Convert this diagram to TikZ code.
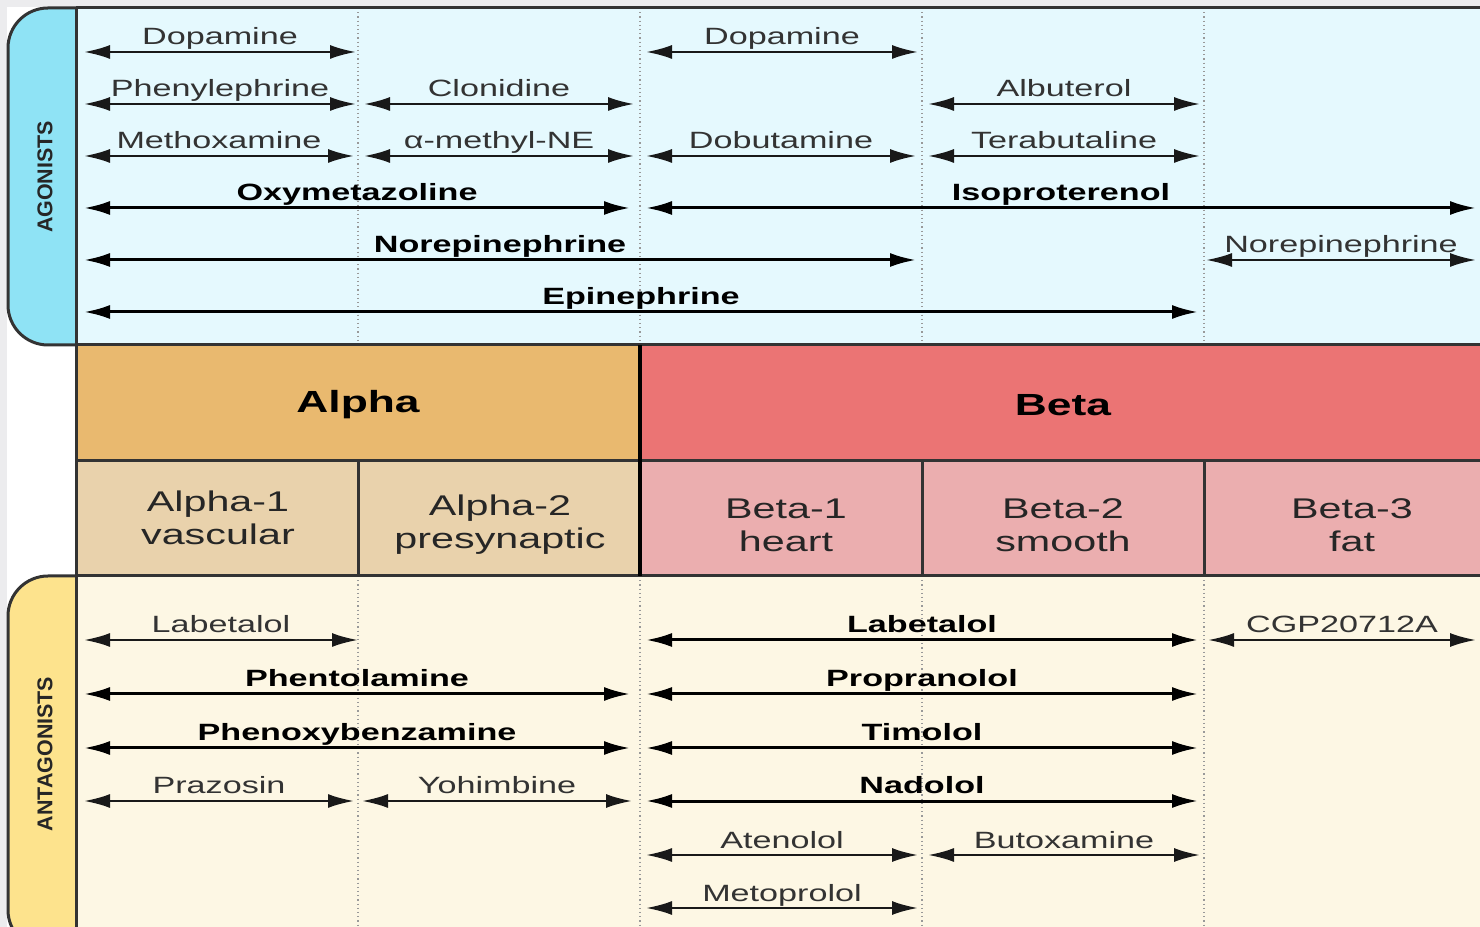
\documentclass[tikz,border=0pt]{standalone}
\usepackage{fontspec}
\setmainfont[FakeStretch=1.45]{Liberation Sans}
\newfontfamily\tabfont{Liberation Sans}
\usetikzlibrary{arrows.meta}
\definecolor{agbg}{HTML}{E5F9FE}
\definecolor{agtab}{HTML}{8FE3F5}
\definecolor{antbg}{HTML}{FDF7E4}
\definecolor{anttab}{HTML}{FDE38D}
\definecolor{alphaH}{HTML}{E9B96F}
\definecolor{betaH}{HTML}{EB7474}
\definecolor{alphaS}{HTML}{E9D2AC}
\definecolor{betaS}{HTML}{EBAEAF}
\definecolor{edge}{HTML}{333333}
\definecolor{margin}{HTML}{ECECEE}
% one drug range: name, left x, right x, row y, label
\newcommand{\rng}[6][drug]{%
  \coordinate (#2-l) at (#3,#5);
  \coordinate (#2-r) at (#4,#5);
  \draw[#1] (#2-l) -- node[#1 lbl] (#2) {#6} (#2-r);}

\begin{document}
\begin{tikzpicture}[x=0.1mm,y=-0.1mm,
  drug/.style={draw=black!90, line width=0.24mm,
    {Latex[length=2.6mm,width=1.4mm]}-{Latex[length=2.6mm,width=1.4mm]}},
  key/.style={drug, draw=black, line width=0.3mm},
  drug lbl/.style={anchor=base, yshift=0.7mm, inner sep=0pt, text=black!80,
    font=\fontsize{6.7pt}{8pt}\selectfont},
  key lbl/.style={drug lbl, text=black, font=\fontsize{6.7pt}{8pt}\selectfont\bfseries},
  frame/.style={draw=edge, line width=0.3mm},
  grid/.style={draw=black!40, line width=0.2mm, dash pattern=on 0.12mm off 0.3mm},
  tabbox/.style={draw=edge, line width=0.3mm, rounded corners=4mm},
  tablbl/.style={rotate=90, font=\tabfont\fontsize{6.1pt}{7pt}\selectfont\bfseries, text=black!85},
  hd/.style={font=\fontsize{8.7pt}{10pt}\selectfont\bfseries},
  sub/.style={align=center, text=black!85, font=\fontsize{8.1pt}{9.4pt}\selectfont}]

\clip (0,0) rectangle (1480,927);
\fill[white] (0,0) rectangle (1480,927);
\fill[margin] (0,0) rectangle (1480,7);
\fill[margin] (0,0) rectangle (7,927);

% ===== agonist band =====
\fill[agbg] (76,8) rectangle (1480,345);
\draw[tabbox, fill=agtab] (76,8) -- (8,8) -- (8,345) -- (76,345);
\node[tablbl] (agonists) at (45,177) {AGONISTS};

% ===== antagonist band =====
\fill[antbg] (76,576) rectangle (1480,927);
\draw[tabbox, fill=anttab] (76,576) -- (8,576) -- (8,950) -- (76,950);
\node[tablbl] (antagonists) at (45,754) {ANTAGONISTS};

\foreach \x in {358,640,922,1204} {
  \draw[grid] (\x,8) -- (\x,345);
  \draw[grid] (\x,576) -- (\x,927);
}

% ===== receptor table =====
\fill[alphaH] (76,345) rectangle (640,461);
\fill[betaH] (640,345) rectangle (1480,461);
\fill[alphaS] (76,461) rectangle (640,576);
\fill[betaS] (640,461) rectangle (1480,576);
\node[hd] (alpha) at (358,405) {Alpha};
\node[hd] (beta) at (1063,405) {Beta};
\node[sub] (a1) at (218,518) {Alpha-1\\vascular};
\node[sub] (a2) at (500,525) {Alpha-2\\presynaptic};
\node[sub] (b1) at (786,525) {Beta-1\\heart};
\node[sub] (b2) at (1063,525) {Beta-2\\smooth};
\node[sub] (b3) at (1352,525) {Beta-3\\fat};

\draw[frame] (76,8) -- (1480,8);
\draw[frame] (76,345) -- (1480,345);
\draw[frame] (76,461) -- (1480,461);
\draw[frame] (76,576) -- (1480,576);
\draw[frame] (76,8) -- (76,927);
\draw[frame, draw=black, line width=0.45mm] (640,345) -- (640,576);
\foreach \x in {358,922,1204} \draw[frame] (\x,461) -- (\x,576);

% ===== agonists =====
\rng{ag-dopa1}{84}{356}{52}{Dopamine}
\rng{ag-dopa2}{646}{918}{52}{Dopamine}
\rng{ag-phen}{84}{356}{104}{Phenylephrine}
\rng{ag-clon}{364}{634}{104}{Clonidine}
\rng{ag-albu}{928}{1200}{104}{Albuterol}
\rng{ag-meth}{84}{354}{156}{Methoxamine}
\rng{ag-amne}{364}{634}{156}{α-methyl-NE}
\rng{ag-dobu}{646}{916}{156}{Dobutamine}
\rng{ag-tera}{928}{1200}{156}{Terabutaline}
\rng[key]{ag-oxy}{84}{630}{208}{Oxymetazoline}
\rng[key]{ag-iso}{646}{1476}{208}{Isoproterenol}
\rng[key]{ag-ne1}{84}{916}{260}{Norepinephrine}
\rng{ag-ne2}{1206}{1476}{260}{Norepinephrine}
\rng[key]{ag-epi}{84}{1198}{312}{Epinephrine}

% ===== antagonists =====
\rng{an-lab1}{84}{358}{640}{Labetalol}
\rng[key]{an-lab2}{646}{1198}{640}{Labetalol}
\rng{an-cgp}{1208}{1476}{640}{CGP20712A}
\rng[key]{an-phent}{84}{630}{694}{Phentolamine}
\rng[key]{an-prop}{646}{1198}{694}{Propranolol}
\rng[key]{an-phenox}{84}{630}{748}{Phenoxybenzamine}
\rng[key]{an-timo}{646}{1198}{748}{Timolol}
\rng{an-praz}{84}{354}{801}{Prazosin}
\rng{an-yohi}{362}{632}{801}{Yohimbine}
\rng[key]{an-nado}{646}{1198}{801}{Nadolol}
\rng{an-aten}{646}{918}{855}{Atenolol}
\rng{an-buto}{928}{1200}{855}{Butoxamine}
\rng{an-meto}{646}{918}{908}{Metoprolol}

\end{tikzpicture}
\end{document}
